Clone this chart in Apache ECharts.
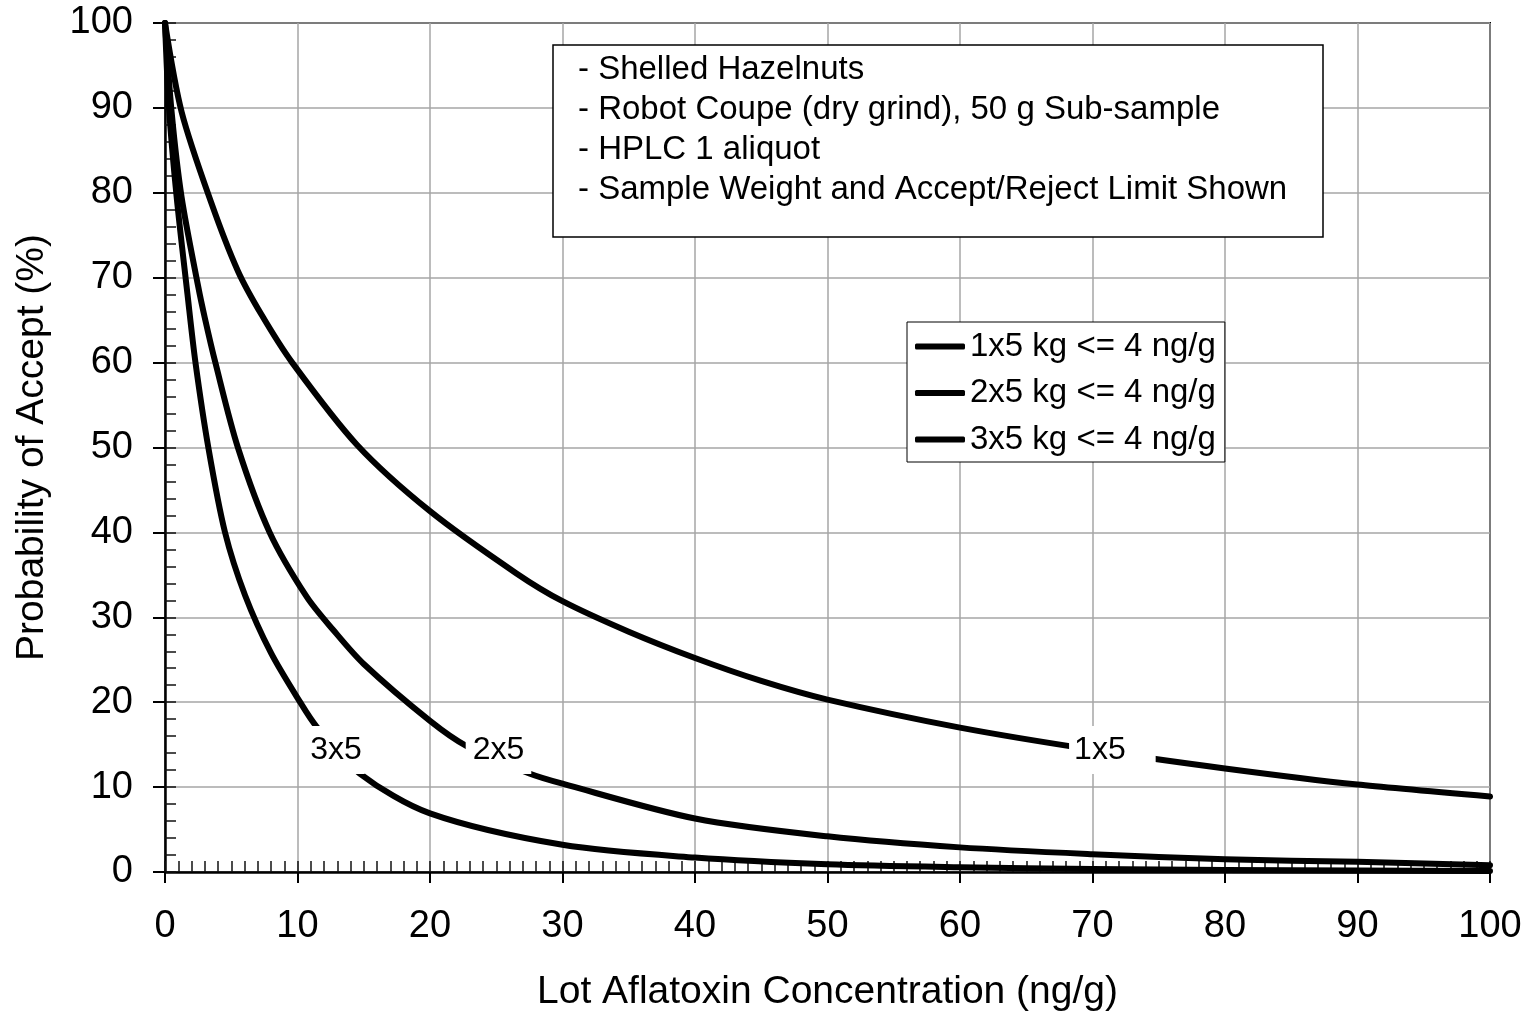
<!DOCTYPE html>
<html><head><meta charset="utf-8">
<script src="https://cdn.jsdelivr.net/npm/echarts@6/dist/echarts.min.js"></script>
<style>html,body{margin:0;padding:0;background:#fff}#c{width:1528px;height:1015px}</style>
</head><body><div id="c"></div>
<script>
const FONT = "'Liberation Sans', Arial, Helvetica, sans-serif";

// ---- data ----
const seriesNames = ['1x5 kg <= 4 ng/g', '2x5 kg <= 4 ng/g', '3x5 kg <= 4 ng/g'];

const x1x5 = [0, 1.26, 3.5, 5.5, 7.3, 9.6, 14.5, 20, 26.5, 30, 35, 40, 45, 50, 60, 70, 80, 90, 100];
const y1x5 = [100, 89.5, 78.8, 70.8, 65.6, 60, 50.3, 42.5, 35.2, 31.9, 28.3, 25.2, 22.5, 20.3, 17.0, 14.4, 12.2, 10.3, 8.9];

const x2x5 = [0, 0.5, 1.25, 2.5, 3.0, 3.8, 5.5, 7.9, 10.7, 12.7, 15, 20, 22.8, 27.5, 30, 40, 50, 60, 70, 80, 90, 100];
const y2x5 = [100, 89.5, 79.5, 69, 65.3, 60, 50, 40, 32.4, 28.5, 24.5, 17.8, 14.8, 11.6, 10.4, 6.3, 4.2, 2.9, 2.1, 1.5, 1.2, 0.8];

const x3x5 = [0, 0.3, 0.88, 1.7, 2.3, 3.27, 4.53, 6.04, 8, 10.2, 11.45, 14.7, 20, 30, 40, 50, 60, 70, 80, 90, 100];
const y3x5 = [100, 90, 79.5, 68, 60, 50, 40, 32.6, 25.8, 20, 17.1, 11.6, 6.9, 3.2, 1.7, 0.9, 0.55, 0.35, 0.25, 0.18, 0.12];

const curveLabels = ['3x5', '2x5', '1x5'];
const curveLabelX = [12.9, 25.17, 71.5];
const curveLabelY = [14.37, 14.37, 14.37];

const noteLines = [
  '- Shelled Hazelnuts',
  '- Robot Coupe (dry grind), 50 g Sub-sample',
  '- HPLC 1 aliquot',
  '- Sample Weight and Accept/Reject Limit Shown'
];

const xAxisName = 'Lot Aflatoxin Concentration (ng/g)';
const yAxisName = 'Probability of Accept (%)';

// ---- build ----
const labelPads = [[8, 3], [8, 7], [8, 30, 8, 5]];

function pairs(xs, ys) { return xs.map((x, i) => [x, ys[i]]); }

const lineSeries = [[x1x5, y1x5], [x2x5, y2x5], [x3x5, y3x5]].map((d, i) => ({
  name: seriesNames[i],
  type: 'line',
  xAxisIndex: 0, yAxisIndex: 0,
  data: pairs(d[0], d[1]),
  smooth: 0.3,
  symbol: 'none',
  showSymbol: false,
  lineStyle: { color: '#000', width: 6, cap: 'round', join: 'round' },
  itemStyle: { color: '#000' },
  z: 3,
  silent: true
}));

const labelSeries = {
  type: 'scatter',
  xAxisIndex: 0, yAxisIndex: 0,
  symbolSize: 0,
  z: 10,
  silent: true,
  itemStyle: { opacity: 1, color: '#000' },
  data: curveLabels.map((t, i) => ({
    name: t,
    value: [curveLabelX[i], curveLabelY[i]],
    label: {
      show: true,
      position: 'inside',
      formatter: '{b}',
      color: '#000',
      opacity: 1,
      fontFamily: FONT,
      fontSize: 32,
      backgroundColor: '#fff',
      padding: labelPads[i]
    }
  }))
};

const chart = echarts.init(document.getElementById('c'), null, { renderer: 'canvas' });
chart.setOption({
  animation: false,
  backgroundColor: '#fff',
  textStyle: { fontFamily: FONT },
  grid: {
    left: 165, top: 23, width: 1325, height: 849,
    containLabel: false, outerBoundsMode: 'none',
    show: true, borderColor: '#000', borderWidth: 2, backgroundColor: 'transparent'
  },
  legend: {
    show: true,
    data: seriesNames,
    orient: 'vertical',
    left: 907, top: 322,
    padding: [8, 9, 6, 8],
    icon: 'roundRect',
    itemWidth: 50, itemHeight: 6, itemGap: 13.5,
    itemStyle: { color: '#000', borderWidth: 0 },
    backgroundColor: '#fff',
    borderColor: '#000', borderWidth: 1, borderRadius: 0,
    textStyle: { fontFamily: FONT, fontSize: 33, color: '#000', lineHeight: 28 },
    selectedMode: false,
    z: 20
  },
  xAxis: [{
    type: 'value', min: 0, max: 100, interval: 10,
    position: 'bottom',
    name: xAxisName, nameLocation: 'middle', nameGap: 101,
    nameTextStyle: { fontFamily: FONT, fontSize: 39, color: '#000' },
    axisLine: { show: true, onZero: false, lineStyle: { color: '#000', width: 2.5 } },
    axisTick: { show: true, inside: false, length: 11, lineStyle: { color: '#000', width: 2 } },
    axisLabel: { show: true, margin: 36, fontFamily: FONT, fontSize: 38, color: '#000', showMinLabel: true, showMaxLabel: true, hideOverlap: false },
    splitLine: { show: true, lineStyle: { color: '#a6a6a6', width: 1.5 } },
    minorTick: { show: false }, minorSplitLine: { show: false }
  }, {
    type: 'value', min: 0, max: 100, interval: 1,
    position: 'bottom', gridIndex: 0,
    axisLine: { show: false },
    axisTick: { show: true, inside: true, length: 11, lineStyle: { color: '#111', width: 1.5 } },
    axisLabel: { show: false },
    splitLine: { show: false }
  }],
  yAxis: [{
    type: 'value', min: 0, max: 100, interval: 10,
    position: 'left',
    name: yAxisName, nameLocation: 'middle', nameGap: 113, nameRotate: 90,
    nameTextStyle: { fontFamily: FONT, fontSize: 39, color: '#000' },
    axisLine: { show: true, onZero: false, lineStyle: { color: '#000', width: 2.5 } },
    axisTick: { show: true, inside: false, length: 12, lineStyle: { color: '#000', width: 2 } },
    axisLabel: { show: true, margin: 32, fontFamily: FONT, fontSize: 38, color: '#000', showMinLabel: true, showMaxLabel: true, hideOverlap: false },
    splitLine: { show: true, lineStyle: { color: '#a6a6a6', width: 1.5 } }
  }, {
    type: 'value', min: 0, max: 100, interval: 2,
    position: 'left', gridIndex: 0,
    axisLine: { show: false },
    axisTick: { show: true, inside: true, length: 11, lineStyle: { color: '#111', width: 1.5 } },
    axisLabel: { show: false },
    splitLine: { show: false }
  }],
  graphic: [{
    type: 'rect',
    z: 100,
    shape: { x: 553, y: 45, width: 770, height: 192 },
    style: { fill: '#fff', stroke: '#000', lineWidth: 1.5 }
  }, {
    type: 'text',
    z: 101,
    x: 578, y: 50,
    style: {
      text: noteLines.join('\n'),
      font: '33px ' + FONT,
      fill: '#000',
      lineHeight: 40,
      verticalAlign: 'top',
      align: 'left'
    }
  }],
  series: lineSeries.concat([labelSeries])
});
</script>
</body></html>
